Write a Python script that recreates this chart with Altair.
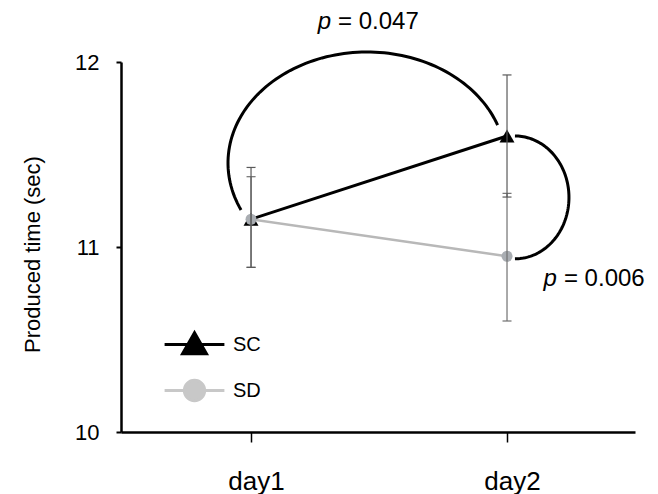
import altair as alt
import pandas as pd

# ---- values ----
days = ["day1", "day2"]
series = ["SC", "SD"]
sc_mean = [11.15, 11.60]
sc_upper = [11.43, 11.93]
sc_lower = [10.89, 11.27]
sd_mean = [11.15, 10.95]
sd_upper = [11.38, 11.29]
sd_lower = [10.89, 10.60]
p_labels = ["0.047", "0.006"]

FONT = "Liberation Sans"
X_DOMAIN = [-0.508, 1.5]
Y_DOMAIN = [10, 12]
Y_TITLE = "Produced time (sec)"

rows = []
for s, m, u, l in [("SC", sc_mean, sc_upper, sc_lower), ("SD", sd_mean, sd_upper, sd_lower)]:
    for i, d in enumerate(days):
        rows.append({"idx": i, "day": d, "series": s, "mean": m[i], "upper": u[i], "lower": l[i]})
df = pd.DataFrame(rows)

xs = alt.Scale(domain=X_DOMAIN, nice=False, zero=False)
ys = alt.Scale(domain=Y_DOMAIN, nice=False, zero=False)

label_expr = "[" + ",".join("'%s'" % d for d in days) + "][datum.value]"

x_axis = alt.Axis(values=[0, 1], labelExpr=label_expr, title=None)
y_axis = alt.Axis(values=[10, 11, 12], format=".0f", title=Y_TITLE)


def X(field):
    return alt.X(field, scale=xs, axis=x_axis, title=None)


def Y(field):
    return alt.Y(field, scale=ys, axis=y_axis, title=Y_TITLE)


line_colors = {"SC": "#000000", "SD": "#b8b8b8"}
line_widths = {"SC": 3, "SD": 2.5}
bar_colors = {"SC": "#5a5a5a", "SD": "#707070"}
pt_shapes = {"SC": "triangle-up", "SD": "circle"}
pt_sizes = {"SC": 225, "SD": 121}
pt_colors = {"SC": "#000000", "SD": "#a9adb2"}

layers = []

# ---- significance arcs (elliptical brackets) ----
arcs = [
    # cx, cy, rx, ry, angle start (deg), angle end (deg)
    (0.453, 11.454, 0.543, 0.600, 205, 20),
    (1.031, 11.268, 0.211, 0.332, 90, -90),
]
for cx, cy, rx, ry, a0, a1 in arcs:
    arc = alt.Chart(alt.sequence(0, 1.0001, 0.01, as_="t")).transform_calculate(
        ang=f"({a0} + ({a1} - {a0}) * datum.t) * PI / 180"
    ).transform_calculate(
        ax=f"{cx} + {rx} * cos(datum.ang)",
        ay=f"{cy} + {ry} * sin(datum.ang)",
    ).mark_line(color="black", strokeWidth=3).encode(
        x=X("ax:Q"), y=Y("ay:Q"), order=alt.Order("t:Q"),
    )
    layers.append(arc)

# ---- lines ----
for s in ["SD", "SC"]:
    ln = alt.Chart(df).transform_filter(alt.datum.series == s).mark_line(
        color=line_colors[s], strokeWidth=line_widths[s]
    ).encode(x=X("idx:Q"), y=Y("mean:Q"))
    layers.append(ln)

# ---- markers ----
for s in ["SC", "SD"]:
    pt = alt.Chart(df).transform_filter(alt.datum.series == s).mark_point(
        filled=True, shape=pt_shapes[s], size=pt_sizes[s], color=pt_colors[s], opacity=1
    ).encode(x=X("idx:Q"), y=Y("mean:Q"))
    layers.append(pt)

# ---- error bars ----
for s in ["SD", "SC"]:
    base = alt.Chart(df).transform_filter(alt.datum.series == s)
    rule = base.mark_rule(color=bar_colors[s], strokeWidth=1.2).encode(
        x=X("idx:Q"), y=Y("lower:Q"), y2="upper:Q",
    )
    caps = base.transform_fold(["lower", "upper"], as_=["end", "val"]).mark_tick(
        color=bar_colors[s], thickness=1.2, size=9, orient="horizontal", opacity=1
    ).encode(x=X("idx:Q"), y=Y("val:Q"))
    layers += [rule, caps]

# ---- p-value annotations ----
p_pos_x = [0.3125, 1.195]
p_pos_y = [12.178, 10.789]
ptext = pd.DataFrame({"lab": p_labels, "px": p_pos_x, "py": p_pos_y})
t_p = alt.Chart(ptext).mark_text(
    text="p", fontStyle="italic", font=FONT, fontSize=24, align="right", baseline="alphabetic", color="black"
).encode(x=X("px:Q"), y=Y("py:Q"))
t_v = alt.Chart(ptext).transform_calculate(full="'= ' + datum.lab").mark_text(
    font=FONT, fontSize=24, align="left", baseline="alphabetic", color="black", dx=7
).encode(x=X("px:Q"), y=Y("py:Q"), text="full:N")
layers += [t_p, t_v]

# ---- legend (line + marker symbols), its own marks are clipped away ----
path_sc = "M-2.3,0H2.3M0,-0.9L0.92,0.72H-0.92Z"
path_sd = "M-2.3,0H-0.78M0.78,0H2.3M-0.78,0A0.78,0.78 0 1,1 0.78,0A0.78,0.78 0 1,1 -0.78,0Z"
leg_colors = ["#000000", "#c8c8c8"]
leg = alt.Legend(title=None, orient="none", legendX=59, legendY=268)
leg_layer = alt.Chart(pd.DataFrame({"series": series})).mark_point(
    filled=True, clip=True, strokeWidth=3, opacity=1
).encode(
    x=alt.XDatum(-10, scale=xs, axis=x_axis),
    y=alt.YDatum(0, scale=ys, axis=y_axis),
    fill=alt.Fill("series:N", scale=alt.Scale(domain=series, range=leg_colors), legend=leg),
    stroke=alt.Stroke("series:N", scale=alt.Scale(domain=series, range=leg_colors), legend=leg),
    shape=alt.Shape("series:N", scale=alt.Scale(domain=series, range=[path_sc, path_sd]), legend=leg),
)
layers.append(leg_layer)

chart = alt.layer(*layers).properties(
    width=514, height=370,
    autosize=alt.AutoSizeParams(type="none"),
    padding={"left": 113, "top": 54, "right": 15, "bottom": 62},
).configure_view(strokeWidth=0).configure_axis(
    labelFont=FONT, titleFont=FONT, labelColor="black", titleColor="black",
    domainColor="black", tickColor="black", grid=False, domainWidth=2.5,
    titleFontWeight="normal",
).configure_axisX(
    tickSize=10, tickWidth=1.5, labelFontSize=26, labelPadding=26, labelOffset=5,
).configure_axisY(
    tickSize=5, tickWidth=2, labelFontSize=22, labelPadding=17, titleFontSize=22,
    titlePadding=30, titleY=192,
).configure_legend(
    symbolSize=676, symbolStrokeWidth=3, symbolOpacity=1, labelFontSize=20, labelFont=FONT,
    labelColor="black", labelOffset=24, rowPadding=14, padding=0,
)

chart.save("out.html", embed_options={"renderer": "svg", "actions": False})
